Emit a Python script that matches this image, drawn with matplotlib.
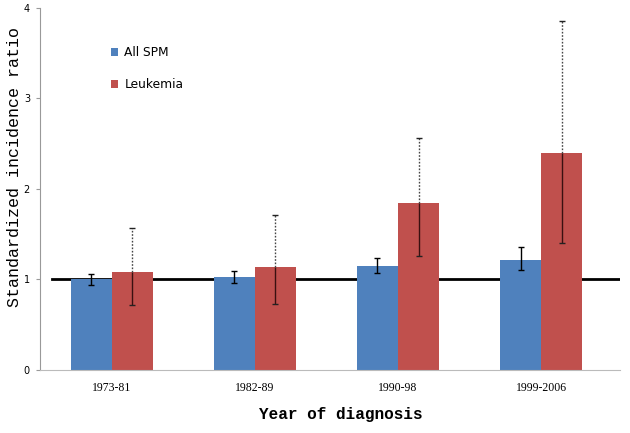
import numpy as np
from matplotlib import pyplot as plt

# data
periods = ["1973-81", "1982-89", "1990-98", "1999-2006"]
all_spm = [1.00, 1.03, 1.15, 1.21]
all_spm_lo = [0.94, 0.96, 1.07, 1.10]
all_spm_hi = [1.06, 1.09, 1.23, 1.36]
leukemia = [1.08, 1.14, 1.84, 2.40]
leukemia_lo = [0.72, 0.73, 1.26, 1.40]
leukemia_hi = [1.57, 1.71, 2.56, 3.85]

blue = "#4F81BD"
red = "#C0504D"

fig = plt.figure(figsize=(6.3, 4.33), dpi=100)
ax = fig.add_axes([0.063, 0.146, 0.921, 0.836])

x = np.arange(len(periods))
w = 0.287

# reference line at 1
ax.plot([-0.42, 3.55], [1, 1], color="black", lw=2, zorder=1)

ax.bar(x - w / 2, all_spm, width=w, color=blue, label="All SPM", zorder=2)
ax.bar(x + w / 2, leukemia, width=w, color=red, label="Leukemia", zorder=2)

# error bars: all SPM solid
spm = np.array(all_spm)
ax.errorbar(x - w / 2, spm,
            yerr=[spm - np.array(all_spm_lo), np.array(all_spm_hi) - spm],
            fmt="none", ecolor="black", elinewidth=1, capsize=2.5, capthick=1, zorder=3)

# error bars: leukemia, lower part solid, upper part dotted
xl = x + w / 2
ax.vlines(xl, leukemia_lo, leukemia, color="#3a1010", lw=1, zorder=3)
ax.vlines(xl, leukemia, leukemia_hi, color="#444444", lw=1, linestyles=(0, (1.2, 1.2)), zorder=3)
ax.plot(xl, leukemia_lo, "_", color="#222222", ms=5, mew=1, zorder=3)
ax.plot(xl, leukemia_hi, "_", color="#222222", ms=5, mew=1, zorder=3)

# axis setting
ax.set_xlim(-0.503, 3.55)
ax.set_ylim(0, 4)
ax.set_xticks(x)
ax.set_xticklabels(periods, fontsize=8.5, family="Liberation Serif")
ax.set_yticks([0, 1, 2, 3, 4])
ax.set_yticklabels(["0", "1", "2", "3", "4"], fontsize=7, family="DejaVu Sans")
ax.tick_params(axis="x", length=0, pad=9)
ax.tick_params(axis="y", length=3, color="#999999", pad=4)

for side in ["top", "right"]:
    ax.spines[side].set_visible(False)
ax.spines["left"].set_linestyle((0, (2, 1)))
ax.spines["left"].set_color("#999999")
ax.spines["left"].set_linewidth(0.8)
ax.spines["bottom"].set_linestyle((0, (2, 1)))
ax.spines["bottom"].set_color("#bbbbbb")
ax.spines["bottom"].set_linewidth(0.8)

ax.set_ylabel("Standardized incidence ratio", fontsize=12, family="Liberation Mono")
ax.yaxis.set_label_coords(-0.031, 0.56)
ax.set_xlabel("Year of diagnosis", fontsize=11.5, family="Liberation Mono", fontweight="bold")
ax.xaxis.set_label_coords(0.519, -0.102)

ax.legend(loc="upper left", bbox_to_anchor=(0.104, 0.925), frameon=False, fontsize=8.8,
          handlelength=0.6, handleheight=0.6, handletextpad=0.5, labelspacing=1.6)

plt.savefig("out.png", dpi=100)
